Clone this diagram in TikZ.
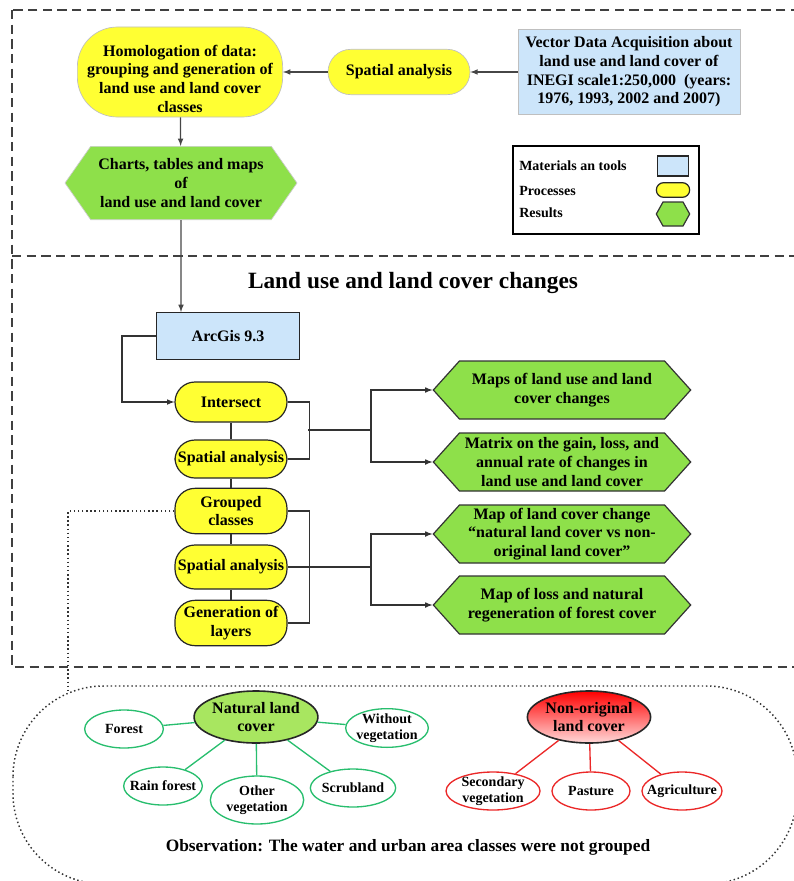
\documentclass[tikz,border=0pt]{standalone}
\usepackage{fontspec}
\setmainfont{Liberation Serif}
\usetikzlibrary{shapes.geometric,shapes.symbols}
\definecolor{procyellow}{RGB}{255,255,51}
\definecolor{matblue}{RGB}{204,229,250}
\definecolor{resgreen}{RGB}{142,224,74}
\definecolor{natgreen}{RGB}{168,230,96}
\definecolor{clsgreen}{RGB}{40,190,110}
\definecolor{clsred}{RGB}{235,40,40}
\definecolor{linegray}{RGB}{70,70,70}

\begin{document}
\begin{tikzpicture}[x=0.75pt,y=-0.75pt,>=latex,
    every node/.style={font=\bfseries\fontsize{12}{14}\selectfont, align=center},
    pnode/.style={draw=black!85, fill=procyellow, rounded corners=15pt, minimum width=84pt, inner sep=1pt, line width=0.9pt},
    mnode/.style={draw=black!85, fill=matblue, minimum width=107pt, minimum height=35pt, line width=1pt},
    rnode/.style={signal, signal to=west and east, signal pointer angle=96, draw=black!80, fill=resgreen, minimum width=193pt, minimum height=43.5pt, inner sep=1pt, line width=0.9pt},
    natnode/.style={ellipse, draw=black!85, line width=1.2pt, minimum width=91.5pt, minimum height=39pt, inner sep=0pt},
    cnode/.style={ellipse, draw=clsgreen, fill=white, line width=1pt, minimum width=59pt, minimum height=28.5pt, inner xsep=-5pt, inner ysep=-3pt, font=\bfseries\fontsize{10.5}{12}\selectfont},
    legtext/.style={anchor=west, inner sep=0pt, font=\bfseries\fontsize{10.5}{12}\selectfont},
    dashframe/.style={dash pattern=on 7pt off 4pt, line width=1pt, black!75},
    dotline/.style={dotted, line width=1.1pt, black!80}]
    \useasboundingbox (0,0) rectangle (793,881);

    % frames
    \draw[dashframe] (12,10) rectangle (805,667);
    \draw[dashframe] (12,256) -- (805,256);

    % data preparation
    \node[pnode, draw=black!25, line width=0.5pt, minimum width=154pt, minimum height=67.5pt, rounded corners=30pt, text height=63pt, text depth=3pt, inner sep=0pt] (homol) at (180,72) {Homologation of data:\\grouping and generation of\\land use and land cover\\classes};
    \node[pnode, draw=black!25, line width=0.5pt, minimum width=106.5pt, minimum height=34pt, rounded corners=17pt] (spa1) at (399,72) {Spatial analysis};
    \node[mnode, draw=black!25, line width=0.5pt, minimum width=166.5pt, minimum height=64pt] (vda) at (629,72) {Vector Data Acquisition about\\land use and land cover of\\INEGI scale1:250,000~ (years:\\1976, 1993, 2002 and 2007)};
    \node[rnode, draw=black!20, line width=0.5pt, minimum width=174pt, minimum height=55pt, signal pointer angle=110] (charts) at (181,183) {Charts, tables and maps\\of\\land use and land cover};

    % legend
    \node[draw=black, line width=1pt, minimum width=139.5pt, minimum height=66pt] (legend) at (606,190) {};
    \node[legtext] (legmat) at (519,166) {Materials an tools};
    \node[legtext] (legproc) at (519,191) {Processes};
    \node[legtext] (legres) at (519,213) {Results};
    \node[mnode, minimum width=23pt, minimum height=15pt] (symmat) at (673,166) {};
    \node[pnode, minimum width=25pt, minimum height=11pt, rounded corners=5.5pt] (symproc) at (673,190) {};
    \node[rnode, minimum width=25pt, minimum height=18pt, signal pointer angle=122] (symres) at (673,214) {};

    \draw[->, linegray, line width=0.9pt] (vda) -- (spa1);
    \draw[->, linegray, line width=0.9pt] (spa1) -- (homol);
    \draw[->, linegray, line width=0.9pt] (homol) -- (charts);

    % land use and land cover changes
    \node[font=\bfseries\fontsize{17.5}{20}\selectfont] (title) at (413,283) {Land use and land cover changes};
    \node[mnode] (arcgis) at (228,336) {ArcGis 9.3};
    \node[pnode, minimum height=30pt] (inter) at (231,402) {Intersect};
    \node[pnode, minimum height=28.5pt] (spa2) at (231,459) {Spatial analysis};
    \node[pnode, minimum height=34pt] (group) at (231,511) {Grouped\\classes};
    \node[pnode, minimum height=33pt] (spa3) at (231,567) {Spatial analysis};
    \node[pnode, minimum height=34pt] (gen) at (231,623) {Generation of\\layers};

    \node[rnode] (res1) at (562,390) {Maps of land use and land\\cover changes};
    \node[rnode] (res2) at (562,462) {Matrix on the gain, loss, and\\annual rate of changes in\\land use and land cover};
    \node[rnode] (res3) at (562,534) {Map of land cover change\\“natural land cover vs non-\\original land cover”};
    \node[rnode] (res4) at (562,605) {Map of loss and natural\\regeneration of forest cover};

    \coordinate (fork1) at (308,430);
    \coordinate (join1) at (371,430);
    \coordinate (join2) at (371,567);

    \begin{scope}[line width=0.9pt, black!80]
    \draw[->, linegray] (charts) -- (charts |- arcgis.north);
    \draw[->] (arcgis.west) -- ++(-34,0) |- (inter);
    \draw (inter) -- (spa2);
    \draw (spa2) -- (group);
    \draw (group) -- (spa3);
    \draw (spa3) -- (gen);
    \draw (inter.east) -- ++(22,0) |- (spa2.east);
    \draw (fork1) -- (join1);
    \draw[->] (join1) |- (res1);
    \draw[->] (join1) |- (res2);
    \draw (group.east) -- ++(22,0) |- (gen.east);
    \draw (spa3) -- (join2);
    \draw[->] (join2) |- (res3);
    \draw[->] (join2) |- (res4);
    \end{scope}

    % grouped classes
    \coordinate (grpend) at (68,692);
    \draw[dotline] (group.west) -| (grpend);
    \draw[dotline, rounded corners=68pt] (13,686) rectangle (797,884);

    \node[natnode, fill=natgreen] (natural) at (256,717) {Natural land\\cover};
    \node[cnode] (forest) at (124,729) {Forest};
    \node[cnode, minimum width=62pt, minimum height=29pt] (without) at (387,728) {Without\\vegetation};
    \node[cnode] (rain) at (163,786) {Rain forest};
    \node[cnode, minimum width=70pt, minimum height=36pt] (other) at (257,800) {Other\\vegetation};
    \node[cnode, minimum width=64pt] (scrub) at (353,788) {Scrubland};

    \node[natnode, top color=red, bottom color=red!15] (nonorig) at (589,717) {Non-original\\land cover};
    \node[cnode, draw=clsred, minimum width=70.5pt] (second) at (493,791) {Secondary\\vegetation};
    \node[cnode, draw=clsred, minimum width=58.5pt] (pasture) at (591,791) {Pasture};
    \node[cnode, draw=clsred, minimum width=60pt] (agri) at (682,791) {Agriculture};

    \begin{scope}[clsgreen, line width=1pt]
    \draw (natural) -- (forest);
    \draw (natural) -- (without);
    \draw (natural) -- (rain);
    \draw (natural) -- (other);
    \draw (natural) -- (scrub);
    \end{scope}
    \begin{scope}[clsred, line width=1pt]
    \draw (nonorig) -- (second);
    \draw (nonorig) -- (pasture);
    \draw (nonorig) -- (agri);
    \end{scope}

    \node[font=\bfseries\fontsize{13}{15}\selectfont] (obs) at (408,847) {Observation: The water and urban area classes were not grouped};
\end{tikzpicture}
\end{document}
